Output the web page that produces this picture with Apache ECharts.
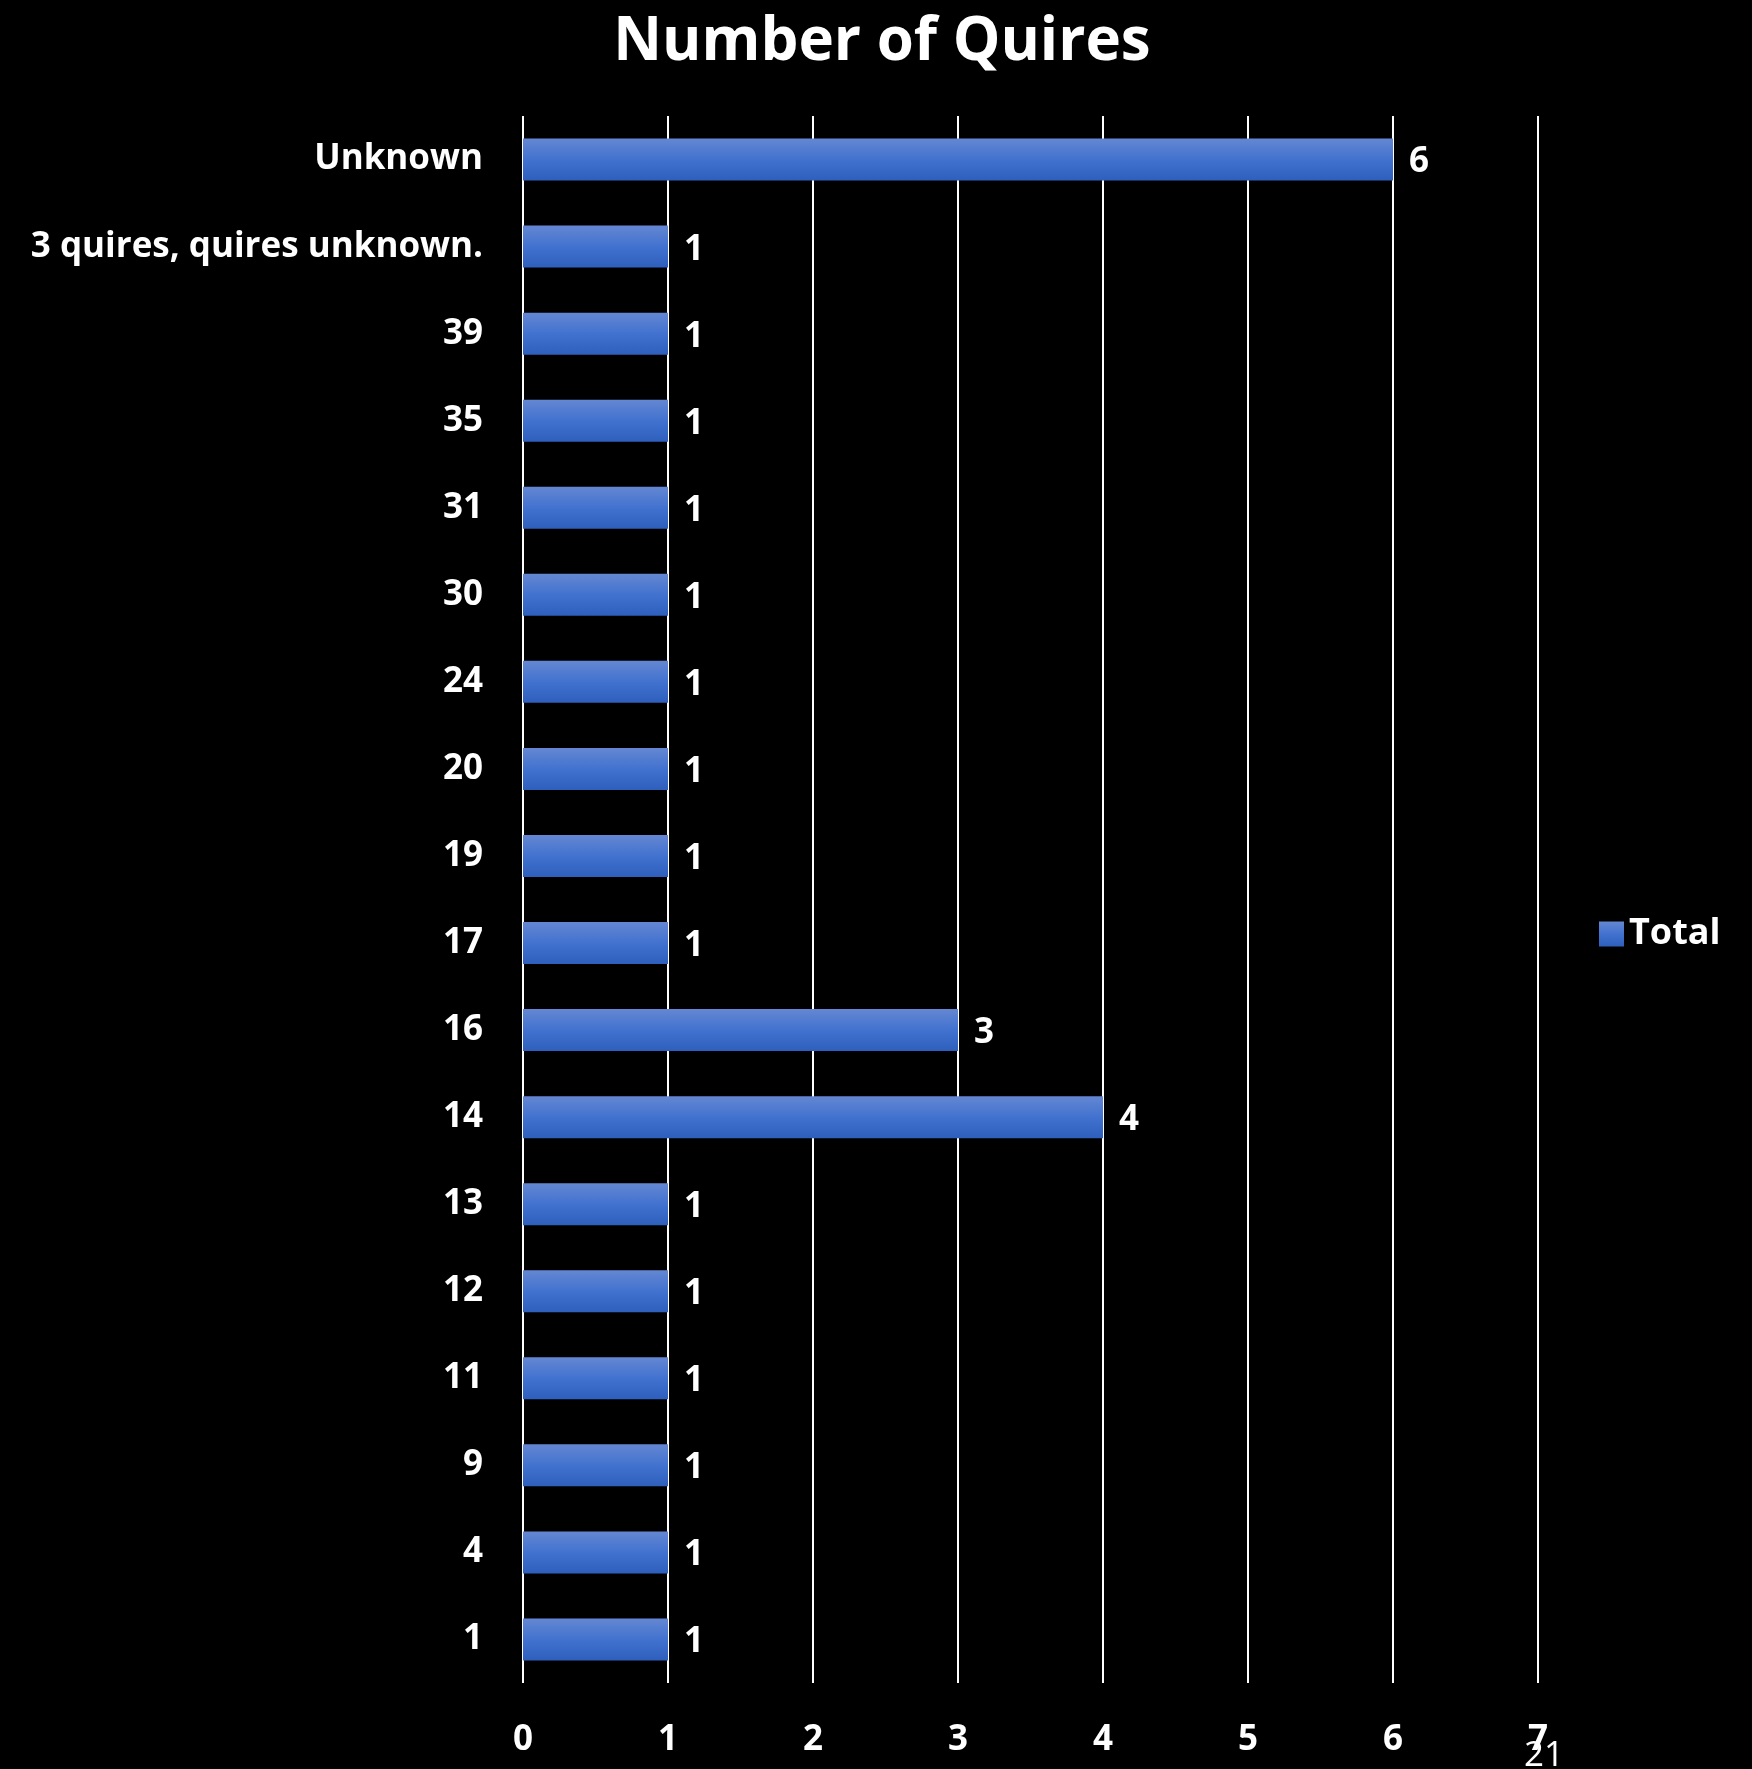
<!DOCTYPE html>
<html><head><meta charset="utf-8">
<script src="https://cdn.jsdelivr.net/npm/echarts@6/dist/echarts.min.js"></script>
<style>html,body{margin:0;padding:0;background:#000;}#c{width:1752px;height:1769px;}</style>
</head><body><div id="c"></div>
<script>
const categories = ["1","4","9","11","12","13","14","16","17","19","20","24","30","31","35","39","3 quires, quires unknown.","Unknown"];
const totals = [1,1,1,1,1,1,4,3,1,1,1,1,1,1,1,1,1,6];
const xTicks = [0,1,2,3,4,5,6,7];
const seriesName = "Total";
const titleText = "Number of Quires";
const pageNumber = "21";

const FONT = "'Open Sans', sans-serif";
const barColor = new echarts.graphic.LinearGradient(0,0,0,1,[
  {offset:0,color:'#6487d2'},{offset:0.5,color:'#4272cf'},{offset:1,color:'#2f5fbd'}]);
const chart = echarts.init(document.getElementById('c'));
chart.setOption({
  backgroundColor:'#000',
  animation:false,
  title:{text:titleText,left:877,textAlign:'center',top:8,
    textStyle:{color:'#fff',fontFamily:FONT,fontWeight:'bold',fontSize:60}},
  legend:{data:[seriesName],left:1594,top:911,itemWidth:25,itemHeight:25,itemGap:10,
    textStyle:{color:'#fff',fontFamily:FONT,fontWeight:'bold',fontSize:36},
    icon:'rect'},
  grid:{left:523,right:214,top:116,bottom:86,containLabel:false},
  xAxis:{type:'value',min:0,max:7,interval:1,
    axisLine:{show:false},axisTick:{show:false},
    splitLine:{show:true,lineStyle:{color:'#fff',width:2}},
    axisLabel:{color:'#fff',fontFamily:FONT,fontWeight:'bold',fontSize:35,margin:40,
      formatter:v=>xTicks.includes(v)?String(v):''}},
  yAxis:{type:'category',data:categories,
    axisLine:{show:false},axisTick:{show:false},
    axisLabel:{color:'#fff',fontFamily:FONT,fontWeight:'bold',fontSize:35,margin:40,padding:[4,0,0,0]}},
  series:[{name:seriesName,type:'bar',data:totals,barWidth:42,
    itemStyle:{color:barColor},
    label:{show:true,position:'right',distance:16,color:'#fff',fontFamily:FONT,fontWeight:'bold',fontSize:35,offset:[0,3]}}],
  graphic:[{type:'text',left:1524,top:1739,style:{text:pageNumber,fill:'#fff',fontFamily:FONT,fontSize:35}}]
});
</script></body></html>
